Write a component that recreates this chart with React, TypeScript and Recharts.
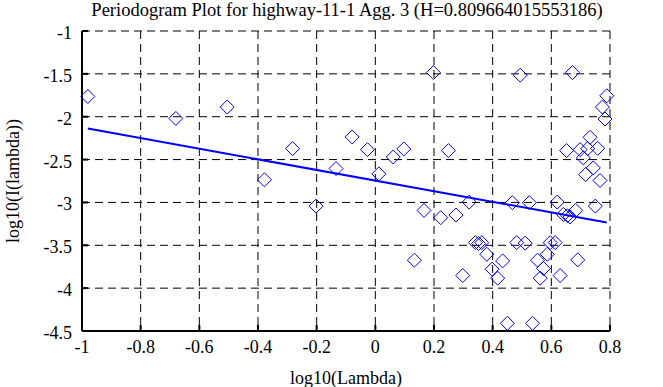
import { ScatterChart, Scatter, XAxis, YAxis, CartesianGrid } from "recharts";

const hurst = 0.809664015553186;
const fitSlope = 1 - 2 * hurst;
const fitIntercept = -2.745;

const logLambda = [
  -0.98, -0.68, -0.505, -0.378, -0.282, -0.202, -0.134, -0.079, -0.027, 0.012,
  0.061, 0.097, 0.133, 0.166, 0.198, 0.223, 0.249, 0.275, 0.298, 0.32,
  0.341, 0.352, 0.363, 0.38, 0.398, 0.417, 0.434, 0.45, 0.467, 0.482,
  0.494, 0.511, 0.525, 0.536, 0.553, 0.562, 0.573, 0.586, 0.596, 0.613,
  0.62, 0.63, 0.641, 0.652, 0.655, 0.664, 0.672, 0.683, 0.69, 0.698,
  0.709, 0.717, 0.724, 0.732, 0.743, 0.75, 0.758, 0.766, 0.774, 0.783, 0.789,
];
const logPower = [
  -1.764, -2.02, -1.887, -2.736, -2.372, -3.043, -2.605, -2.236, -2.384, -2.667,
  -2.47, -2.376, -3.674, -3.093, -1.485, -3.178, -2.395, -3.147, -3.853, -2.996,
  -3.469, -3.48, -3.469, -3.605, -3.779, -3.884, -3.682, -4.41, -3.003, -3.469,
  -1.515, -3.475, -3.003, -4.41, -3.674, -3.884, -3.771, -3.605, -3.469, -3.469,
  -2.996, -3.853, -3.14, -2.395, -3.155, -3.17, -1.485, -3.093, -3.67, -2.384,
  -2.48, -2.674, -2.372, -2.24, -2.597, -3.043, -2.369, -2.744, -1.887, -2.027, -1.756,
];
const xTicks = [-1, -0.8, -0.6, -0.4, -0.2, 0, 0.2, 0.4, 0.6, 0.8];
const yTicks = [-4.5, -4, -3.5, -3, -2.5, -2, -1.5, -1];

const title = `Periodogram Plot for highway-11-1 Agg. 3 (H=${hurst})`;

const points = logLambda.map((x, i) => ({ x, y: logPower[i] }));
const xMin = Math.min(...logLambda);
const xMax = Math.max(...logLambda);
const fitLine = [xMin, xMax].map((x) => ({ x, y: fitIntercept + fitSlope * x }));

const BLUE = "#0000ff";
const SERIF = "'Liberation Serif', 'Times New Roman', serif";
const FS = 18;

const Diamond = (props: any) => {
  const { cx, cy } = props;
  const r = 7;
  return (
    <path
      d={`M${cx},${cy - r}L${cx + r},${cy}L${cx},${cy + r}L${cx - r},${cy}Z`}
      fill="none"
      stroke={BLUE}
      strokeWidth={1}
    />
  );
};

const XTick = ({ x, y, payload }: any) => (
  <text x={x} y={y + 20} textAnchor="middle" style={{ fontFamily: SERIF, fontSize: FS }} fill="#000">
    {String(payload.value)}
  </text>
);

const YTick = ({ x, y, payload }: any) => (
  <text x={x} y={y + 8} textAnchor="end" style={{ fontFamily: SERIF, fontSize: FS }} fill="#000">
    {String(payload.value)}
  </text>
);

const frame = { stroke: "#000", strokeWidth: 2 };

const App = () => {
  return (
    <div
      style={{
        position: "absolute",
        left: 0,
        top: 0,
        width: 663,
        height: 387,
        background: "#fff",
        fontFamily: SERIF,
        fontSize: FS,
      }}
    >
      <div
        style={{
          position: "absolute",
          left: 0,
          width: 694,
          top: 0,
          textAlign: "center",
          fontSize: 18.5,
          lineHeight: "20px",
          color: "#000",
        }}
      >
        {title}
      </div>
      <ScatterChart width={663} height={387} margin={{ top: 31, right: 53, bottom: 0, left: 0 }}>
        <CartesianGrid xAxisId="b" yAxisId="l" stroke="#000" strokeDasharray="8 5" />
        <XAxis
          xAxisId="b"
          type="number"
          dataKey="x"
          domain={[-1, 0.8]}
          ticks={xTicks}
          height={56}
          axisLine={frame}
          tickLine={frame}
          tickSize={-6}
          tickMargin={8}
          tick={<XTick />}
          label={{ value: "log10(Lambda)", position: "insideBottom", offset: 3, fontFamily: SERIF, fontSize: FS, fill: "#000" }}
        />
        <XAxis
          xAxisId="t"
          orientation="top"
          type="number"
          dataKey="x"
          domain={[-1, 0.8]}
          ticks={xTicks}
          height={0}
          axisLine={frame}
          tickLine={frame}
          tickSize={-6}
          tick={false}
        />
        <YAxis
          yAxisId="l"
          type="number"
          dataKey="y"
          domain={[-4.5, -1]}
          ticks={yTicks}
          width={82}
          axisLine={frame}
          tickLine={frame}
          tickSize={-6}
          tickMargin={16}
          tick={<YTick />}
          label={{ value: "log10(I(lambda))", position: "center", angle: -90, dx: -28, fontFamily: SERIF, fontSize: FS, fill: "#000" }}
        />
        <YAxis
          yAxisId="r"
          orientation="right"
          type="number"
          dataKey="y"
          domain={[-4.5, -1]}
          ticks={yTicks}
          width={0}
          axisLine={frame}
          tickLine={frame}
          tickSize={-6}
          tick={false}
        />
        <Scatter xAxisId="b" yAxisId="l" data={points} shape={Diamond} isAnimationActive={false} />
        <Scatter
          xAxisId="b"
          yAxisId="l"
          data={fitLine}
          line={{ stroke: BLUE, strokeWidth: 2 }}
          shape={() => <g />}
          isAnimationActive={false}
        />
      </ScatterChart>
    </div>
  );
};

export default App;
